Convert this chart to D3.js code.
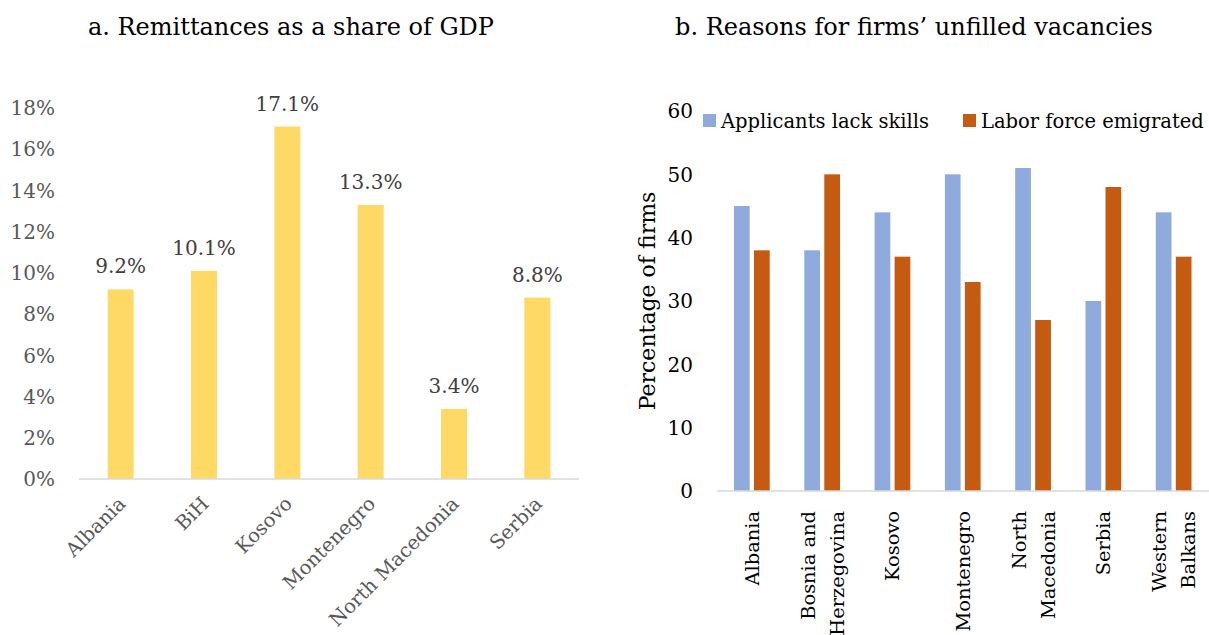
<!DOCTYPE html>
<html>
<head>
<meta charset="utf-8">
<script src="https://d3js.org/d3.v7.min.js"></script>
<style>
  body { margin: 0; background: #fff; }
  svg text { font-family: "DejaVu Serif", "Liberation Serif", serif; }
</style>
</head>
<body>
<svg id="chart" width="1209" height="635"></svg>
<script>
// panel a
const countriesA = ["Albania", "BiH", "Kosovo", "Montenegro", "North Macedonia", "Serbia"];
const remittances = [9.2, 10.1, 17.1, 13.3, 3.4, 8.8];
const ticksA = [0, 2, 4, 6, 8, 10, 12, 14, 16, 18];

// panel b
const countriesB = ["Albania", "Bosnia and|Herzegovina", "Kosovo", "Montenegro", "North|Macedonia", "Serbia", "Western|Balkans"];
const seriesB = ["Applicants lack skills", "Labor force emigrated"];
const lackSkills = [45, 38, 44, 50, 51, 30, 44];
const emigrated = [38, 50, 37, 33, 27, 48, 37];
const ticksB = [0, 10, 20, 30, 40, 50, 60];

const svg = d3.select("#chart");

// ---------- a. Remittances ----------
const xA = d3.scaleBand().domain(countriesA).range([79, 579]).paddingInner(0.688).paddingOuter(0.344);
const yA = d3.scaleLinear().domain([0, 18]).range([479, 108]);

svg.append("text")
  .attr("x", 291).attr("y", 35)
  .attr("text-anchor", "middle")
  .style("font-size", "24px").style("fill", "#000")
  .text("a. Remittances as a share of GDP");

svg.append("g")
  .selectAll("text")
  .data(ticksA)
  .join("text")
  .attr("x", 55).attr("y", d => yA(d))
  .attr("dy", "0.36em")
  .attr("text-anchor", "end")
  .style("font-size", "20px").style("fill", "#595959")
  .text(d => d + "%");

svg.append("g")
  .selectAll("rect")
  .data(remittances)
  .join("rect")
  .attr("x", (d, i) => xA(countriesA[i]))
  .attr("y", d => yA(d))
  .attr("width", xA.bandwidth())
  .attr("height", d => yA(0) - yA(d))
  .style("fill", "#FFD966");

svg.append("line")
  .attr("x1", 79).attr("x2", 579)
  .attr("y1", yA(0)).attr("y2", yA(0))
  .style("stroke", "#D9D9D9").style("stroke-width", 1.5);

svg.append("g")
  .selectAll("text")
  .data(remittances)
  .join("text")
  .attr("x", (d, i) => xA(countriesA[i]) + xA.bandwidth() / 2)
  .attr("y", d => yA(d) - 16)
  .attr("text-anchor", "middle")
  .style("font-size", "20px").style("fill", "#404040")
  .text(d => d.toFixed(1) + "%");

svg.append("g")
  .selectAll("text")
  .data(countriesA)
  .join("text")
  .attr("transform", d => `translate(${xA(d) + xA.bandwidth() / 2 + 6},${yA(0) + 26}) rotate(-45)`)
  .attr("text-anchor", "end")
  .style("font-size", "19.5px").style("fill", "#595959")
  .text(d => d);

// ---------- b. Unfilled vacancies ----------
const x0 = d3.scaleBand().domain(countriesB).range([716.7, 1208.8]);
const x1 = d3.scaleBand().domain(seriesB)
  .range([x0.bandwidth() * 0.246, x0.bandwidth() * 0.754]).paddingInner(0.215);
const yB = d3.scaleLinear().domain([0, 60]).range([491, 111]);
const colorB = d3.scaleOrdinal().domain(seriesB).range(["#8FAADC", "#C55A11"]);

svg.append("text")
  .attr("x", 914).attr("y", 35)
  .attr("text-anchor", "middle")
  .style("font-size", "24px").style("fill", "#000")
  .text("b. Reasons for firms\u2019 unfilled vacancies");

svg.append("g")
  .selectAll("text")
  .data(ticksB)
  .join("text")
  .attr("x", 693).attr("y", d => yB(d))
  .attr("dy", "0.36em")
  .attr("text-anchor", "end")
  .style("font-size", "20px").style("fill", "#000")
  .text(d => d);

svg.append("text")
  .attr("transform", `translate(655,${yB(30)}) rotate(-90)`)
  .attr("text-anchor", "middle")
  .style("font-size", "22px").style("fill", "#000")
  .text("Percentage of firms");

const rowsB = countriesB.map((c, i) => ({ c, vals: [lackSkills[i], emigrated[i]] }));

svg.append("g")
  .selectAll("g")
  .data(rowsB)
  .join("g")
  .attr("transform", d => `translate(${x0(d.c)},0)`)
  .selectAll("rect")
  .data(d => d.vals.map((v, j) => ({ s: seriesB[j], v })))
  .join("rect")
  .attr("x", d => x1(d.s))
  .attr("y", d => yB(d.v))
  .attr("width", x1.bandwidth())
  .attr("height", d => yB(0) - yB(d.v))
  .style("fill", d => colorB(d.s));

svg.append("line")
  .attr("x1", 716.7).attr("x2", 1209)
  .attr("y1", yB(0)).attr("y2", yB(0))
  .style("stroke", "#D9D9D9").style("stroke-width", 1.5);

const lab = svg.append("g")
  .selectAll("text")
  .data(countriesB)
  .join("text")
  .attr("transform", d => `translate(${x0(d) + x0.bandwidth() / 2},${yB(0) + 20}) rotate(-90)`)
  .attr("text-anchor", "end")
  .style("font-size", "19.4px").style("fill", "#000");

lab.each(function (d) {
  const parts = d.split("|");
  const t = d3.select(this);
  parts.forEach((p, k) => {
    t.append("tspan")
      .attr("x", 0)
      .attr("y", (k - (parts.length - 1) / 2) * 29)
      .attr("dy", "0.36em")
      .text(p);
  });
});

// legend
const leg = svg.append("g")
  .selectAll("g")
  .data(seriesB)
  .join("g")
  .attr("transform", (d, i) => `translate(${[703, 963][i]},114)`);
leg.append("rect").attr("width", 13).attr("height", 13).style("fill", d => colorB(d));
leg.append("text")
  .attr("x", 18).attr("y", 14)
  .style("font-size", "19.5px").style("fill", "#000")
  .text(d => d);
</script>
</body>
</html>
